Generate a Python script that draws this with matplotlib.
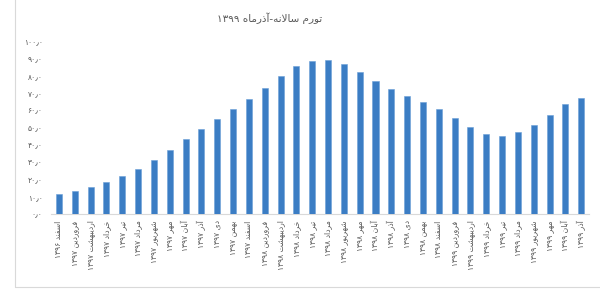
import matplotlib
matplotlib.use("Agg")
import matplotlib.pyplot as plt
from matplotlib.patches import Rectangle

# ---------------- data ----------------
months = ["اسفند",
          "فروردین", "اردیبهشت", "خرداد", "تیر", "مرداد", "شهریور",
          "مهر", "آبان", "آذر", "دی", "بهمن", "اسفند",
          "فروردین", "اردیبهشت", "خرداد", "تیر", "مرداد", "شهریور",
          "مهر", "آبان", "آذر", "دی", "بهمن", "اسفند",
          "فروردین", "اردیبهشت", "خرداد", "تیر", "مرداد", "شهریور",
          "مهر", "آبان", "آذر"]
years = [1396] + [1397] * 12 + [1398] * 12 + [1399] * 9
values = [11.2, 13.0, 15.3, 18.2, 21.7, 25.8, 31.2, 37.0, 43.4, 48.8,
          54.8, 60.4, 66.6, 73.0, 80.0, 85.4, 88.5, 89.1, 86.8, 82.2,
          76.9, 72.3, 68.4, 64.9, 60.8, 55.4, 50.0, 46.3, 44.8, 47.1,
          51.2, 57.3, 63.7, 66.9]
yticks = [0, 10, 20, 30, 40, 50, 60, 70, 80, 90, 100]
title = "تورم سالانه-آذرماه ۱۳۹۹"

# ---------------- minimal Arabic/Persian shaping ----------------
FORMS = {
    'ا': ('\uFE8D', '\uFE8E', None, None),
    'آ': ('\uFE81', '\uFE82', None, None),
    'ب': ('\uFE8F', '\uFE90', '\uFE91', '\uFE92'),
    'ت': ('\uFE95', '\uFE96', '\uFE97', '\uFE98'),
    'خ': ('\uFEA5', '\uFEA6', '\uFEA7', '\uFEA8'),
    'د': ('\uFEA9', '\uFEAA', None, None),
    'ذ': ('\uFEAB', '\uFEAC', None, None),
    'ر': ('\uFEAD', '\uFEAE', None, None),
    'ز': ('\uFEAF', '\uFEB0', None, None),
    'س': ('\uFEB1', '\uFEB2', '\uFEB3', '\uFEB4'),
    'ش': ('\uFEB5', '\uFEB6', '\uFEB7', '\uFEB8'),
    'ف': ('\uFED1', '\uFED2', '\uFED3', '\uFED4'),
    'ل': ('\uFEDD', '\uFEDE', '\uFEDF', '\uFEE0'),
    'م': ('\uFEE1', '\uFEE2', '\uFEE3', '\uFEE4'),
    'ن': ('\uFEE5', '\uFEE6', '\uFEE7', '\uFEE8'),
    'ه': ('\uFEE9', '\uFEEA', '\uFEEB', '\uFEEC'),
    'و': ('\uFEED', '\uFEEE', None, None),
    'ی': ('\uFBFC', '\uFBFD', '\uFBFE', '\uFBFF'),
}
LAMALEF = {'ا': ('\uFEFB', '\uFEFC'), 'آ': ('\uFEF5', '\uFEF6')}
FA_DIGITS = '۰۱۲۳۴۵۶۷۸۹'


def dual(ch):
    f = FORMS.get(ch)
    return f is not None and f[2] is not None


def shape(text):
    out = []
    i = 0
    n = len(text)
    while i < n:
        ch = text[i]
        if ch not in FORMS:
            out.append(ch)
            i += 1
            continue
        prev = text[i - 1] if i > 0 else ''
        cprev = dual(prev)
        if ch == 'ل' and i + 1 < n and text[i + 1] in LAMALEF:
            iso, fin = LAMALEF[text[i + 1]]
            out.append(fin if cprev else iso)
            i += 2
            continue
        nxt = text[i + 1] if i + 1 < n else ''
        cnext = dual(ch) and nxt in FORMS
        iso, fin, ini, med = FORMS[ch]
        if cprev and cnext:
            out.append(med)
        elif cprev:
            out.append(fin)
        elif cnext:
            out.append(ini)
        else:
            out.append(iso)
        i += 1
    return ''.join(out)


def visual(text):
    shaped = shape(text)
    tokens = []
    cur = ''
    cur_digit = None
    for ch in shaped:
        isd = ch in FA_DIGITS or ch in '0123456789٫,'
        if cur_digit is None or isd == cur_digit:
            cur += ch
        else:
            tokens.append((cur, cur_digit))
            cur = ch
        cur_digit = isd
    if cur:
        tokens.append((cur, cur_digit))
    res = []
    for tok, isd in reversed(tokens):
        res.append(tok if isd else tok[::-1])
    return ''.join(res)


def fa(num):
    return ''.join(FA_DIGITS[int(c)] if c.isdigit() else c for c in str(num))


# ---------------- plot ----------------
plt.rcParams['font.family'] = ['DejaVu Sans']
fig = plt.figure(figsize=(6.0, 3.02), dpi=100)
ax = fig.add_axes([0.085, 0.2930, 0.897, 0.5712])

x = list(range(len(values)))
ax.bar(x, values, width=0.38, color='#3B7DC4', edgecolor='#6A9FD8',
       linewidth=0.4, zorder=3)

ax.set_xlim(-0.5, len(values) - 0.5)
ax.set_ylim(0, 100)

ax.set_yticks(yticks)
ax.set_yticklabels([fa(v) + '٫' + '۰' for v in yticks], fontsize=5.5,
                   color='#595959')
ax.set_xticks(x)
ax.set_xticklabels([visual(m + ' ' + fa(y)) for m, y in zip(months, years)],
                   rotation=90, fontsize=5.5, color='#595959')
ax.tick_params(axis='both', length=0)
ax.tick_params(axis='y', pad=6)
ax.tick_params(axis='x', pad=5)

for s in ['top', 'right', 'left']:
    ax.spines[s].set_visible(False)
ax.spines['bottom'].set_color('#D9D9D9')
ax.spines['bottom'].set_linewidth(0.8)

fig.text(270 / 600, 1 - 18 / 302, visual(title), ha='center', va='center',
         fontsize=7.5, color='#595959')

# chart-area border (left and bottom visible in the reference)
fig.patches.append(Rectangle((15 / 600, 1 - 287 / 302), 1.2, 1.2,
                             transform=fig.transFigure, fill=False,
                             edgecolor='#D9D9D9', linewidth=0.8))

fig.savefig('out.png', dpi=100)
